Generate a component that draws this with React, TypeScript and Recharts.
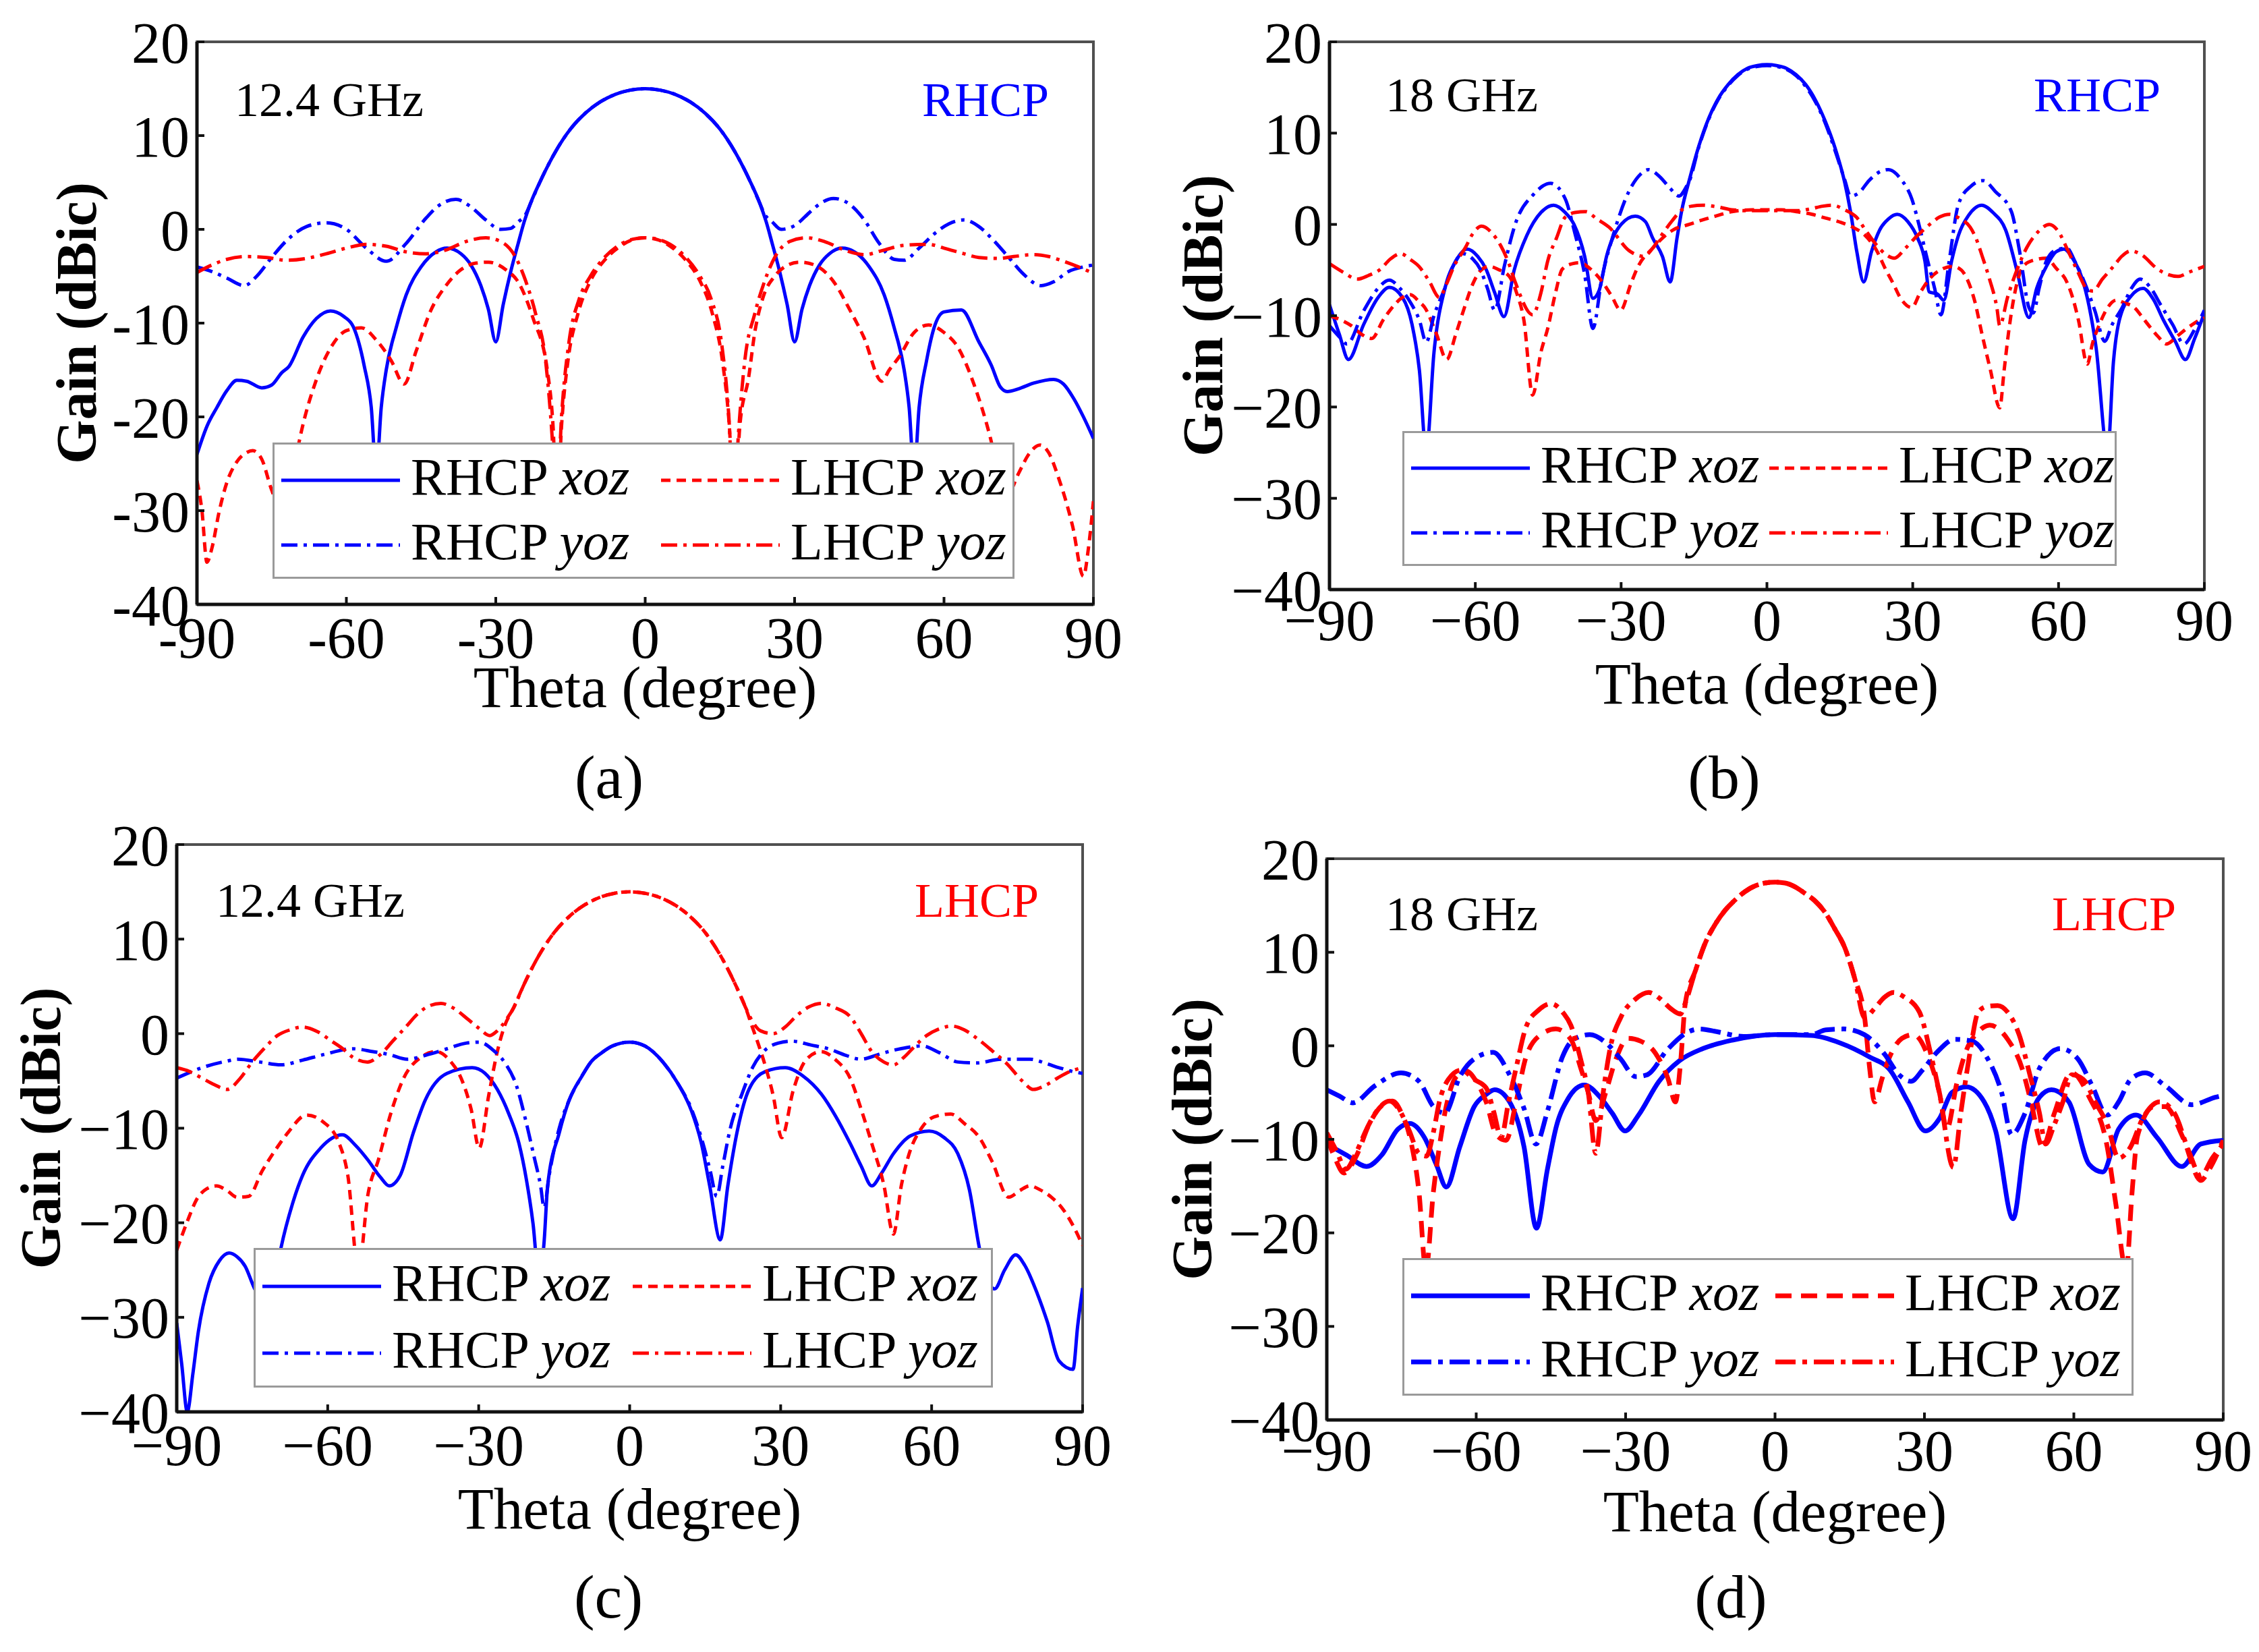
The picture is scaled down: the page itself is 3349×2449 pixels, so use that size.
import { LineChart, Line, XAxis, YAxis, Legend, ReferenceArea, Label } from 'recharts'

type Pair = [number, number]

const THETA_TICKS = [-90, -60, -30, 0, 30, 60, 90]
const GAIN_TICKS = [-40, -30, -20, -10, 0, 10, 20]

// (a) 12.4 GHz, RHCP
const A_RHCP_XOZ: Pair[] = [
  [-90, -24], [-88, -21], [-86, -19], [-84, -17.2], [-82, -16.1], [-80, -16.2], [-77, -16.9], [-75, -16.6],
  [-73, -15.3], [-71.5, -14.6], [-68.7, -11.5], [-66, -9.5], [-63.2, -8.7], [-60.5, -9.3], [-58.6, -10.4],
  [-56.4, -14.6], [-55, -19], [-54, -26], [-53, -19], [-52, -15], [-50, -10.5], [-48, -7], [-45, -4], [-42, -2.4],
  [-39.8, -2], [-37, -2.6], [-35, -3.8], [-33, -6], [-31.5, -8.5], [-30, -12], [-28.5, -8], [-27, -4.5],
  [-25.5, -1.5], [-24.3, 0.8], [-23, 2.8], [-21, 5.2], [-18, 8.3], [-15, 10.7], [-12, 12.4], [-9, 13.6],
  [-6, 14.4], [-3, 14.85], [0, 15], [3, 14.85], [6, 14.4], [9, 13.6], [12, 12.4], [15, 10.7], [18, 8.3],
  [21, 5.2], [23, 2.8], [24.3, 0.8], [25.5, -1.5], [27, -4.5], [28.5, -8], [30, -12], [31.5, -8.5], [33, -6],
  [35, -3.8], [37, -2.6], [39.5, -2], [42, -2.4], [45, -4], [48, -7], [50, -10.5], [52, -15], [53, -19], [54, -26],
  [55, -19], [56.5, -14], [58, -10.5], [60, -8.8], [63.5, -8.6], [67, -12], [69.5, -14.5], [71.3, -16.8],
  [72.7, -17.3], [75, -17], [78, -16.4], [82, -16], [84, -16.5], [86, -18], [88, -20], [90, -22.3],
]
const A_RHCP_YOZ: Pair[] = [
  [-90, -4], [-87, -4.5], [-84, -5.2], [-80.5, -6], [-78, -5], [-75, -3], [-72, -1.2], [-68, 0.3], [-64, 0.7],
  [-60, 0], [-56, -2], [-52, -3.4], [-48, -1.5], [-44, 1.2], [-41, 2.7], [-38, 3.2], [-35, 2.4], [-32, 1],
  [-29, 0], [-27, 0.1], [-25.5, 0.8], [-24, 1.6], [-23, 2.8], [-21, 5.2], [-18, 8.3], [-15, 10.7], [-12, 12.4],
  [-9, 13.6], [-6, 14.4], [-3, 14.85], [0, 15], [3, 14.85], [6, 14.4], [9, 13.6], [12, 12.4], [15, 10.7],
  [18, 8.3], [21, 5.2], [23, 2.8], [24, 1.6], [25.5, 0.8], [27.3, 0], [30, 0.4], [33, 1.8],
  [35, 2.7], [37.8, 3.3], [41, 2.7], [44, 1], [47, -1.5], [50, -3.2], [52, -3.3], [55, -2], [58, -0.5],
  [61, 0.6], [64, 1], [67, 0.3], [70, -1.2], [73, -3], [76, -4.8], [79.5, -6], [82, -5.6], [85, -4.5],
  [88, -4], [90, -3.8],
]
const A_LHCP_XOZ: Pair[] = [
  [-90, -26.8], [-89, -30], [-88, -35.5], [-87, -34], [-85.5, -30], [-84, -27], [-82, -24.8], [-80, -23.8],
  [-78.8, -23.6], [-77, -24.5], [-75, -27.8], [-73, -30], [-71, -27], [-69.5, -22.7], [-66, -16], [-63, -12.5],
  [-60, -10.8], [-57, -10.5], [-54, -11.8], [-51, -14], [-48.4, -16.5], [-46, -13], [-43, -8.6], [-40, -6],
  [-37, -4.3], [-34, -3.6], [-31.5, -3.5], [-28, -4.3], [-25.4, -5.7], [-22.5, -9.5], [-19.6, -15.2],
  [-18.5, -21], [-17.7, -30], [-16.8, -21], [-15.5, -14], [-13.5, -9], [-11, -5.5], [-8, -3.2], [-5, -1.8],
  [-2.5, -1.1], [0, -0.9], [2.5, -1.1], [5, -1.8], [8, -3.2], [11, -5.5], [13.5, -9], [15.5, -14], [16.9, -21],
  [17.9, -30], [19, -21], [20.8, -15.7], [22, -11], [23.7, -7.2], [26, -5], [28, -4], [31, -3.5], [34, -3.8],
  [38, -5.7], [41, -8.5], [43.9, -11.5], [47.5, -16.2], [49, -15], [51, -13.6], [54, -11], [56.9, -10.2],
  [60, -11], [62.7, -12.5], [66, -16.5], [69.2, -22], [71, -26], [73, -28], [75, -26], [77, -24], [79.3, -23],
  [81, -23.8], [83, -26.5], [85.8, -31.6], [88, -37], [89, -34], [90, -29],
]
const A_LHCP_YOZ: Pair[] = [
  [-90, -4.6], [-87, -3.8], [-84, -3.2], [-80, -2.9], [-76, -3], [-72, -3.3], [-68, -3.1], [-64, -2.6],
  [-60, -2], [-56, -1.6], [-52, -1.8], [-48, -2.4], [-44, -2.6], [-40, -2.2], [-36, -1.3], [-32, -0.9],
  [-29, -1.3], [-26, -3], [-24, -5.5], [-22, -9], [-20, -14], [-18.7, -22], [-17.8, -30], [-16.8, -20],
  [-15.3, -12], [-13.3, -7.5], [-11, -5], [-8, -2.9], [-5, -1.6], [-2.5, -1.05], [0, -0.9], [2.5, -1.05],
  [5, -1.6], [8, -2.9], [11, -5], [13.3, -7.5], [15.3, -12], [16.8, -20], [17.8, -30], [18.7, -22], [20, -14],
  [22, -9], [24, -5.5], [26, -3], [29, -1.3], [32.4, -0.9], [36, -1.3], [40, -2.2], [44, -2.7], [48, -2.2],
  [52, -1.7], [56.9, -1.6], [60, -2], [64, -2.6], [67, -3], [70.9, -3.1], [74, -2.9], [78, -2.7], [81, -2.9],
  [84, -3.4], [87, -4], [90, -4.7],
]

// (b) 18 GHz, RHCP
const B_RHCP_XOZ: Pair[] = [
  [-90, -8.8], [-88, -12], [-86.1, -14.8], [-83, -11], [-80, -8], [-77.7, -6.9], [-75, -8], [-73, -11],
  [-71.5, -16], [-70.1, -25], [-68.5, -14], [-66.2, -6.9], [-64, -4], [-61.7, -2.7], [-59.5, -3.5],
  [-57.8, -4.9], [-56, -7.5], [-54.1, -10.1], [-52, -5], [-49.4, -1.2], [-46.5, 1.3], [-43.9, 2.1],
  [-41.5, 1.3], [-39.7, 0], [-37.5, -3.5], [-35.8, -8.1], [-34.5, -7.2], [-33, -3.5], [-30, 0], [-27.1, 0.9],
  [-25, 0.3], [-23.5, -1.5], [-21.5, -3.5], [-19.9, -6.3], [-18.5, -1.5], [-17.5, 1.6], [-16, 4.8],
  [-14, 8.6], [-12, 11.6], [-10, 13.8], [-8, 15.3], [-6, 16.4], [-4, 17.1], [-2, 17.4], [0, 17.5], [2, 17.4],
  [4, 17.1], [6, 16.4], [8, 15.3], [10, 13.6], [12, 11.3], [14, 8.4], [16, 4.6], [17.2, 1.4], [18.5, -3],
  [19.9, -6.3], [21.5, -3], [23.2, -0.6], [25, 0.6], [26.8, 1.1], [29, 0.3], [31, -1.5], [32.5, -4], [33.4, -7.4],
  [35, -7.6], [36.4, -8.3], [38, -4], [39.4, -1.2], [41.5, 1], [44.2, 2.1], [46.5, 1.3], [49.1, -0.6],
  [51.5, -5.2], [53.9, -10.2], [55.5, -7], [57.5, -4.6], [59.5, -3], [61.1, -2.7], [63, -3.8], [64.7, -5.7],
  [66.3, -9], [67.7, -13.4], [70.1, -25], [71.3, -15], [72.5, -10.5], [75, -7.8], [77.4, -7], [79.5, -8.2],
  [81.6, -10.5], [84, -12.8], [86.1, -14.8], [88, -12.5], [90, -9.7],
]
const B_RHCP_YOZ: Pair[] = [
  [-90, -11.1], [-88, -12.3], [-86.4, -13.1], [-83, -9.5], [-80, -7], [-77.7, -6.1], [-75.5, -7],
  [-73.4, -8.5], [-71.5, -10.5], [-70.1, -12.9], [-68.5, -10], [-66.2, -6.9], [-64.5, -4.5], [-62.6, -3.2],
  [-60.5, -3.8], [-59, -4.9], [-57.5, -7], [-56, -9.4], [-54, -4.5], [-51.8, 0], [-48, 3.3], [-44.5, 4.5],
  [-41.5, 2.8], [-39.5, -1], [-37.5, -5.5], [-35.8, -11.4], [-34, -6], [-31.3, -0.6], [-28.5, 3.5],
  [-26, 5.5], [-24.4, 6], [-22, 5.2], [-20, 4], [-18.1, 3.1], [-16.5, 4.2], [-16, 4.7], [-14, 8.5],
  [-12, 11.5], [-10, 13.7], [-8, 15.2], [-6, 16.3], [-4, 17], [-2, 17.3], [0, 17.4], [2, 17.3], [4, 17],
  [6, 16.3], [8, 15.1], [10, 13.4], [12, 11.1], [14, 8.1], [16, 4.9], [17.2, 3.1], [19, 3.5], [21, 4.8],
  [23, 5.7], [25, 6], [27.5, 5], [29.8, 2.8], [31.5, -0.5], [32.8, -3.4], [34.5, -7], [35.8, -9.9], [37.5, -4],
  [39.4, 2.2], [42, 4.2], [44.5, 4.8], [47, 3.6], [50.3, 1.4], [52, -3], [53.9, -9.1], [54.8, -9.7], [56, -7],
  [57.5, -4], [59.5, -2.8], [61.7, -2.6], [63.5, -4.2], [65.3, -6.3], [67.5, -9.5], [69.5, -12.8], [71, -11],
  [73.1, -9.1], [75, -7], [76.8, -6], [79, -7], [81, -8.8], [83.5, -11], [85.8, -13.1], [88, -11.5],
  [90, -9.4],
]
const B_LHCP_XOZ: Pair[] = [
  [-90, -10], [-87.5, -10.5], [-85.5, -11.1], [-83.5, -12], [-81.3, -12.5], [-79, -10.5], [-77.1, -9.1],
  [-75, -8], [-73.4, -7.7], [-71.5, -8.5], [-70.4, -9.1], [-68, -12], [-65.9, -14.8], [-64, -12],
  [-62.6, -9.7], [-60.5, -6.5], [-59, -5.1], [-57.2, -4.6], [-55, -5], [-53, -5.7], [-51.5, -7.5],
  [-50, -10.5], [-48.2, -18.7], [-46.5, -14], [-45.1, -11.4], [-43.5, -7.5], [-42.1, -4.9], [-40, -4.3],
  [-38.5, -4.2], [-36.5, -4.8], [-34.3, -6], [-32, -7.8], [-30.1, -9.4], [-28, -6.5], [-26.5, -4.6],
  [-23.5, -2.6], [-19.3, -0.6], [-16, 0], [-13.2, 0.5], [-10, 1], [-7.2, 1.4], [-3, 1.6], [0, 1.6], [3, 1.6],
  [6, 1.4], [9.3, 1.1], [12, 0.7], [15.3, 0.2], [18, -0.4], [20.2, -1.2], [22.5, -2.8], [24.4, -4.9],
  [26, -6.5], [27.4, -8], [29.8, -9.1], [31.5, -7.5], [33.4, -6], [36, -4.9], [38.2, -4.6], [40, -5],
  [41.2, -6], [42.8, -8.5], [44.2, -11.9], [46, -16], [47.9, -20.1], [48.8, -16], [49.7, -11.9], [51, -7.5],
  [52.7, -4.6], [55, -3.9], [57.5, -3.7], [59.5, -4.8], [61.7, -6.3], [63, -8.2], [64.1, -10.5],
  [65.9, -15.3], [67, -13], [68.3, -11.1], [70, -9.2], [71.9, -8.3], [73.5, -8.6], [75.6, -9.1], [77, -10],
  [78.6, -11.1], [80.5, -12.3], [82.2, -13.1], [84.5, -12.2], [86.4, -11.4], [88, -10.8], [90, -10.2],
]
const B_LHCP_YOZ: Pair[] = [
  [-90, -4.3], [-87, -5.3], [-84.3, -6], [-82, -5.6], [-79.5, -4.9], [-77.5, -3.8], [-75.3, -3.2],
  [-73.5, -3.8], [-71.6, -4.6], [-69.5, -6.2], [-67.4, -8], [-65.9, -6.5], [-64.4, -4.6], [-62, -2.5],
  [-60.5, -1], [-58.7, -0.2], [-56.5, -1], [-54.8, -2.3], [-53.3, -4], [-51.8, -6.3], [-48.2, -9.9],
  [-46.5, -7.5], [-45.1, -4], [-43.3, -1.5], [-41.5, 0.8], [-39.5, 1.3], [-37.3, 1.4], [-35, 0.6],
  [-32.5, -0.3], [-28.3, -2.9], [-25.3, -3.5], [-23.5, -2.6], [-21.7, -1.2], [-19.5, 0.4], [-17.5, 1.6],
  [-15.5, 2], [-13.2, 2.1], [-10, 1.9], [-7.2, 1.6], [-3.5, 1.5], [0, 1.5], [3, 1.5], [6.3, 1.5], [9, 1.7],
  [11.5, 2], [13.5, 2.1], [16, 1.6], [18.4, 0.8], [20.5, -0.8], [22.6, -2.3], [24.5, -3.3], [26.2, -3.7],
  [28.5, -2.6], [31, -1.2], [33.5, 0], [35.5, 0.8], [37.6, 1.1], [39.5, 0.7], [41.8, -0.3], [43, -1.5],
  [44.3, -3.5], [45.8, -6], [47.3, -9.1], [47.9, -11.1], [49.5, -8], [51.5, -4.9], [53.5, -2.5],
  [55.8, -0.8], [58.1, 0], [60, -0.8], [61.7, -2.6], [63.8, -5], [65.9, -7.1], [67.1, -7.3], [69, -6],
  [71.3, -4.6], [73, -3.5], [74.9, -2.9], [77, -3.3], [80.4, -4.9], [82.5, -5.5], [84.6, -5.7], [87, -5.2],
  [90, -4.6],
]

// (c) 12.4 GHz, LHCP
const C_RHCP_XOZ: Pair[] = [
  [-90, -30.6], [-89, -35], [-87.9, -40], [-86.8, -36], [-85.7, -31.5], [-83.6, -26.4], [-81.5, -24],
  [-79.6, -23.2], [-78, -23.6], [-76.4, -24.6], [-74.5, -27], [-72.5, -28.5], [-70.5, -26], [-69.3, -22.7],
  [-67, -18], [-65, -15], [-61.4, -12.1], [-57.1, -10.7], [-54.5, -11.8], [-52.1, -13.3], [-49.5, -15.2],
  [-47.8, -16.1], [-45.6, -15], [-43, -10.5], [-40.6, -7], [-36.3, -4.2], [-31.3, -3.6], [-26.3, -5.9],
  [-24, -8.5], [-22, -11.6], [-20.5, -15.5], [-19.2, -20.1], [-18, -26], [-17, -22], [-16.3, -16.1],
  [-14, -10.5], [-12, -7], [-9.5, -4.5], [-7.7, -3], [-5.5, -2], [-3.4, -1.3], [0, -0.9], [3, -1.3],
  [6.6, -3], [9.5, -5.2], [12.3, -8.2], [14.2, -11.5], [15.9, -16.1], [18, -21.8], [19.5, -16.1],
  [21.5, -10], [23.7, -5.9], [27, -4], [30.9, -3.6], [34.5, -4.5], [38.1, -6.4], [41, -8.8], [43.8, -11.6],
  [46, -14], [48.1, -16.1], [50, -14.8], [52.4, -12.7], [55.8, -10.8], [59.5, -10.3], [62.5, -11],
  [65.2, -12.7], [67.5, -16.5], [69.5, -22.7], [71, -26], [72.5, -27], [74.5, -25], [76.7, -23.4],
  [78.5, -24.5], [81, -27.5], [83, -30.5], [85.3, -34.6], [88.1, -35.5], [89, -31], [90, -26.9],
]
const C_RHCP_YOZ: Pair[] = [
  [-90, -4.7], [-85, -3.6], [-80, -2.9], [-77.8, -2.7], [-73.5, -3], [-69.3, -3.3], [-65, -2.8],
  [-60.7, -2.2], [-55, -1.6], [-51, -1.9], [-47.8, -2.2], [-44.2, -2.7], [-40, -2.2], [-36.3, -1.6],
  [-32.5, -1], [-29.9, -0.9], [-27, -1.8], [-24.9, -3], [-22.5, -5.5], [-20.6, -9.3], [-19, -13],
  [-17.7, -16.1], [-17, -18.4], [-16, -15], [-14, -10], [-12, -7], [-9.5, -4.5], [-7.7, -3], [-5.5, -2],
  [-3.4, -1.3], [0, -0.9], [3, -1.3], [6.6, -3], [9.5, -5.2], [12.3, -8], [14.5, -11.5], [16, -14.5],
  [17.3, -17.2], [18.5, -14], [20, -10], [22.3, -6.4], [24.5, -3.5], [26.6, -1.9], [29.5, -1], [32.3, -0.8],
  [36, -1.2], [39.5, -1.6], [43, -2.3], [45.9, -2.7], [50, -2.1], [53.8, -1.6], [58.1, -1.3], [61.5, -2],
  [65.2, -3], [69, -3.1], [73.8, -2.7], [79.5, -2.7], [83, -3.2], [85.3, -3.6], [88, -4], [90, -4.2],
]
const C_LHCP_XOZ: Pair[] = [
  [-90, -22.9], [-88, -20], [-86, -17.5], [-84, -16.4], [-82.1, -16.1], [-80, -16.6], [-78, -17.3],
  [-75.7, -17.2], [-73, -14.5], [-70, -12], [-67.8, -10.4], [-64.2, -8.6], [-61, -9.3], [-57.8, -11.5],
  [-56, -15], [-53.9, -25], [-52, -17], [-49.9, -13.3], [-47.5, -8.5], [-44.9, -4.7], [-41.5, -2.5],
  [-38.5, -1.9], [-35.5, -3], [-33.5, -4.7], [-31.5, -8], [-29.9, -12.1], [-28, -6.5], [-26.3, -1.9],
  [-25, 0.6], [-23, 2.8], [-21, 5.2], [-18, 8.3], [-15, 10.7], [-12, 12.4], [-9, 13.6], [-6, 14.4],
  [-3, 14.85], [0, 15], [3, 14.85], [6, 14.4], [9, 13.6], [12, 12.4], [15, 10.7], [18, 8.3], [21, 5.2],
  [23, 2.8], [24.3, 0.8], [25.5, -1], [27, -3.5], [28.5, -6.5], [30.2, -11], [32.5, -6], [35, -2.8], [38, -1.9],
  [41, -2.8], [43.8, -4.7], [46, -8], [48.1, -11.6], [50.5, -16], [52.4, -21.2], [54, -16], [55.2, -13.3],
  [58.1, -9.9], [60.5, -8.8], [63.8, -8.5], [66.5, -9.5], [69.5, -11], [72, -13.5], [75.3, -17.3],
  [77.5, -16.6], [79.5, -16.1], [81.5, -16.5], [83.8, -17.3], [86, -18.5], [88, -20.2], [90, -22.4],
]
const C_LHCP_YOZ: Pair[] = [
  [-90, -3.6], [-87.5, -4], [-85, -4.7], [-82.5, -5.4], [-80, -5.9], [-77.5, -4.8], [-75, -3],
  [-72.5, -1.5], [-70, -0.2], [-67.5, 0.4], [-65, 0.7], [-62, 0.2], [-59.2, -0.8], [-57, -1.6], [-55, -2.5],
  [-52.1, -3], [-49.5, -2.2], [-47.1, -0.8], [-44.5, 0.7], [-42.1, 2.1], [-40, 2.9], [-37.5, 3.2],
  [-35, 2.7], [-32.1, 1.5], [-29.8, 0.5], [-27.8, -0.2], [-26.3, 0.3], [-24.5, 1.5], [-23, 2.8],
  [-21, 5.2], [-18, 8.3], [-15, 10.7], [-12, 12.4], [-9, 13.6], [-6, 14.4], [-3, 14.85], [0, 15],
  [3, 14.85], [6, 14.4], [9, 13.6], [12, 12.4], [15, 10.7], [18, 8.3], [21, 5.2], [23, 2.8], [24.5, 1.2],
  [26, 0.3], [28.5, 0], [30.9, 0.7], [33, 1.8], [35.5, 2.8], [38.1, 3.2], [41, 2.7], [43.8, 1.8], [46, 0],
  [48.1, -1.9], [50.5, -3], [52.4, -3.3], [54.5, -2.5], [56.7, -1.3], [59, -0.2], [61.5, 0.5], [64, 0.8],
  [66.5, 0.4], [69, -0.5], [72, -1.8], [75, -3.2], [78, -5], [80.2, -5.9], [82.5, -5.5], [85, -4.7],
  [87.5, -4], [90, -3.6],
]

// (d) 18 GHz, LHCP
const D_RHCP_XOZ: Pair[] = [
  [-90, -10.5], [-86, -11.7], [-82, -12.9], [-79, -11.7], [-75.7, -8.9], [-73.3, -8.3], [-70.4, -9.8],
  [-68, -12.7], [-66, -15.1], [-63.3, -10.8], [-60.4, -6.5], [-58, -5.2], [-56.3, -4.7], [-53.3, -6],
  [-50.4, -10.8], [-47.9, -19.5], [-45.7, -13.2], [-43.9, -8.6], [-41.6, -5.7], [-38.3, -4.2], [-35.1, -5.5],
  [-32.7, -7.2], [-30.1, -9.1], [-27.4, -7.4], [-23.3, -3.8], [-19.2, -1.6], [-14.5, -0.3], [-8.6, 0.6],
  [0, 1.2], [7.3, 1.1], [13.1, 0.3], [19, -1.2], [23.1, -2.6], [26.7, -6], [30.2, -9.1], [33.1, -7.7],
  [35.5, -5], [38.4, -4.4], [42, -6], [44.3, -9.1], [47.8, -18.5], [50.2, -10.1], [53.1, -5.5], [55.5, -4.7],
  [59, -6], [63.1, -12.7], [65.8, -13.5], [69, -8.9], [72.5, -7.4], [76.7, -9.8], [81.7, -12.9],
  [85.5, -10.5], [90, -10.1],
]
const D_RHCP_YOZ: Pair[] = [
  [-90, -4.7], [-87.4, -5.4], [-84.8, -6.1], [-80.4, -4.3], [-75.1, -2.9], [-71.5, -3.8], [-68.6, -6.5],
  [-66.3, -7.2], [-63.3, -3.3], [-60.4, -1.4], [-56.6, -0.7], [-53.3, -3.1], [-50.4, -6.7], [-48, -10.5],
  [-45.7, -7], [-42.7, -1.2], [-40.4, 0.7], [-37.2, 1.2], [-33.9, 0.3], [-31, -1.4], [-28, -3.3],
  [-25.7, -3.1], [-21.6, -0.4], [-17.4, 1.5], [-15.1, 1.8], [-11.6, 1.5], [-6.3, 1], [0, 1.2], [7.3, 1.2],
  [10.2, 1.7], [13.7, 1.8], [17.9, 1.2], [22, -0.9], [24.9, -3.1], [27.3, -3.8], [29.6, -2.6], [32.5, -0.7],
  [36.1, 0.7], [39.6, 0.5], [42.5, -1.2], [45.5, -5], [47.5, -9.5], [50.2, -7.2], [53.1, -2.4], [57.3, -0.3],
  [60.8, -1.4], [63.7, -4.3], [66.7, -7.4], [69, -6], [71.4, -3.6], [74.3, -2.9], [78.4, -4.3], [83.7, -6.3],
  [88.4, -5.5], [90, -5.3],
]
const D_LHCP_XOZ: Pair[] = [
  [-90, -9.8], [-88.6, -11.7], [-86.5, -13.6], [-84, -11.7], [-81.5, -8.4], [-78.5, -6.2], [-76.8, -5.9],
  [-75, -7.2], [-73.3, -9.8], [-71.5, -15.6], [-70.1, -24], [-68.6, -15.6], [-67.4, -10.8], [-66.3, -7.2],
  [-64, -3.3], [-62, -2.7], [-60, -3.8], [-58, -6], [-56, -9.5], [-54, -10.1], [-52, -6], [-50, -1.2],
  [-47, 1.2], [-44, 1.8], [-41, 0.7], [-39, -2.4], [-37.5, -5], [-36, -8], [-34, -5], [-32, -1.5],
  [-29.5, 0.8], [-27, 0.5], [-24, -0.8], [-21.5, -3.5], [-20, -6], [-19, -2], [-18, 4.6], [-16, 8],
  [-14, 11], [-12, 13], [-10, 14.5], [-8, 15.6], [-6, 16.5], [-4, 17.1], [-2, 17.4], [0, 17.5], [2, 17.4],
  [4, 17], [6, 16.3], [8, 15.5], [10, 14.3], [12, 12.5], [14, 10.5], [16, 7.2], [18, 3], [19, -2.4],
  [20, -6], [21.5, -3.5], [23, -1.2], [25.5, 0.8], [27.8, 1.2], [30.8, -1.2], [33, -5], [34.5, -8.9],
  [36.5, -4], [38.4, -0.5], [40.8, 1.5], [43.1, 2.2], [46.7, 0.7], [49.6, -2.4], [51.4, -6], [53.7, -10.8],
  [56.1, -7.2], [59, -3.1], [59.6, -2.9], [63.1, -5.5], [66.7, -10.8], [68.4, -16.8], [70.5, -24],
  [71.7, -15.6], [72.8, -9.6], [76.1, -6.5], [78.4, -6.5], [81.9, -9.8], [85.5, -14.4], [87.2, -13.2],
  [90, -10.1],
]
const D_LHCP_YOZ: Pair[] = [
  [-90, -9.3], [-88, -11.3], [-86.2, -13.2], [-84, -11.3], [-82, -8.9], [-80, -7], [-77.4, -5.9],
  [-75.5, -6.8], [-73.5, -9], [-71.5, -11.5], [-70, -11.8], [-68.5, -9], [-67.4, -6], [-65.6, -3.6],
  [-63, -2.6], [-60.4, -3.6], [-58, -4.5], [-56.5, -7], [-55, -9.8], [-53.5, -6], [-52, -2.4], [-50, 2],
  [-47.5, 3.8], [-45, 4.5], [-42.5, 3.5], [-41, 2.2], [-39, -1.5], [-37.5, -5], [-36, -11.5], [-34.5, -5],
  [-33, 0], [-31, 3], [-28, 5], [-25.4, 5.7], [-23, 5], [-21, 4], [-19, 3.4], [-18, 4.6], [-16, 8],
  [-14, 11], [-12, 13], [-10, 14.5], [-8, 15.6], [-6, 16.5], [-4, 17.1], [-2, 17.4], [0, 17.5], [2, 17.4],
  [4, 17], [6, 16.3], [8, 15.5], [10, 14.3], [12, 12.5], [14, 10.5], [16, 7.2], [18, 3], [20, 4], [22, 5.2],
  [23.8, 5.7], [26, 5.2], [29, 3.6], [31.4, -1.2], [33, -5], [35.8, -13], [37.3, -7.2], [39, -1.2],
  [40.8, 3.6], [42.5, 4.2], [44.7, 4.3], [46.7, 3.6], [49, 1.2], [51.4, -3.6], [53.1, -7.2], [54.3, -10.5],
  [56.1, -8.4], [57.8, -6], [59.6, -3.1], [61.9, -3.6], [64.3, -6], [66.7, -8.4], [69, -12], [71.4, -10.8],
  [73.7, -7.9], [77.2, -6], [80.2, -7.2], [83.1, -11.3], [85.5, -13.9], [87.8, -12], [90, -10.5],
]

const BLUE = '#0000ff'
const RED = '#ff0000'
const FONT = '"Liberation Serif", "Times New Roman", serif'

const YW = 260
const XH = 200
const MT = 70
const MR = 90
const TICK_FS = 86

// legend grid order: row 1 xoz, row 2 yoz
const SERIES = [
  { key: 'rx', pol: 'RHCP', plane: 'xoz', color: BLUE, style: 'solid' },
  { key: 'lx', pol: 'LHCP', plane: 'xoz', color: RED, style: 'dash' },
  { key: 'ry', pol: 'RHCP', plane: 'yoz', color: BLUE, style: 'dashdot' },
  { key: 'ly', pol: 'LHCP', plane: 'yoz', color: RED, style: 'dashdot' },
]

interface Panel {
  id: string
  left: number
  top: number
  width: number
  height: number
  series: Record<string, Pair[]>
  minus: string
  lineW: number
  dash: string
  dashDot: string
  legend: { x: number; y: number; w: number; h: number; col2: number }
  yLabelOffset: number
  xLabelOffset: number
  tickMargin: number
}

const PANELS: Panel[] = [
  {
    id: 'a', left: 292, top: 62, width: 1329, height: 834,
    series: { rx: A_RHCP_XOZ, lx: A_LHCP_XOZ, ry: A_RHCP_YOZ, ly: A_LHCP_YOZ },
    minus: '-', lineW: 5, dash: '14 9', dashDot: '24 9 5 9',
    legend: { x: 404, y: 656, w: 1100, h: 202, col2: 573 },
    yLabelOffset: 80, xLabelOffset: 48, tickMargin: 29,
  },
  {
    id: 'b', left: 1971, top: 62, width: 1297, height: 812,
    series: { rx: B_RHCP_XOZ, lx: B_LHCP_XOZ, ry: B_RHCP_YOZ, ly: B_LHCP_YOZ },
    minus: '\u2212', lineW: 5, dash: '14 9', dashDot: '24 9 5 9',
    legend: { x: 2079, y: 639, w: 1059, h: 200, col2: 541 },
    yLabelOffset: 71, xLabelOffset: 31, tickMargin: 25,
  },
  {
    id: 'c', left: 262, top: 1252, width: 1343, height: 841,
    series: { rx: C_RHCP_XOZ, lx: C_LHCP_XOZ, ry: C_RHCP_YOZ, ly: C_LHCP_YOZ },
    minus: '\u2212', lineW: 5, dash: '14 9', dashDot: '24 9 5 9',
    legend: { x: 376, y: 1850, w: 1096, h: 207, col2: 559 },
    yLabelOffset: 57, xLabelOffset: 27, tickMargin: 29,
  },
  {
    id: 'd', left: 1967, top: 1273, width: 1329, height: 832,
    series: { rx: D_RHCP_XOZ, lx: D_LHCP_XOZ, ry: D_RHCP_YOZ, ly: D_LHCP_YOZ },
    minus: '\u2212', lineW: 7, dash: '24 14', dashDot: '30 10 7 10',
    legend: { x: 2079, y: 1865, w: 1084, h: 204, col2: 550 },
    yLabelOffset: 59, xLabelOffset: 35, tickMargin: 25,
  },
]

const NOTES = [
  { x: 348, y: 172, text: '12.4 GHz', color: '#000' },
  { x: 1367, y: 172, text: 'RHCP', color: BLUE },
  { x: 2054, y: 165, text: '18 GHz', color: '#000' },
  { x: 3015, y: 165, text: 'RHCP', color: BLUE },
  { x: 320, y: 1359, text: '12.4 GHz', color: '#000' },
  { x: 1356, y: 1359, text: 'LHCP', color: RED },
  { x: 2054, y: 1379, text: '18 GHz', color: '#000' },
  { x: 3042, y: 1379, text: 'LHCP', color: RED },
]

const CAPTIONS = [
  { x: 903, y: 1183, text: '(a)' },
  { x: 2556, y: 1183, text: '(b)' },
  { x: 902, y: 2398, text: '(c)' },
  { x: 2566, y: 2398, text: '(d)' },
]

function merge(series: Record<string, Pair[]>) {
  const rows = new Map<number, Record<string, number>>()
  for (const [key, arr] of Object.entries(series)) {
    for (const [t, g] of arr) {
      const row = rows.get(t) ?? { t }
      row[key] = g
      rows.set(t, row)
    }
  }
  return [...rows.values()].sort((a, b) => a.t - b.t)
}

function dashOf(p: Panel, style: string) {
  if (style === 'dash') return p.dash
  if (style === 'dashdot') return p.dashDot
  return undefined
}

function LegendBox({ p }: { p: Panel }) {
  const { w, h, col2 } = p.legend
  return (
    <div
      style={{
        width: w, height: h, boxSizing: 'border-box', border: '3px solid #9a9a9a',
        background: '#fff', position: 'relative', fontFamily: FONT, fontSize: 78, color: '#000',
      }}
    >
      {SERIES.map((s, i) => {
        const x0 = i % 2 ? col2 : 10
        const cy = i < 2 ? h * 0.26 : h * 0.74
        return (
          <div key={s.key}>
            <svg
              width={176}
              height={20}
              style={{ position: 'absolute', left: x0, top: cy - 10 }}
            >
              <line
                x1={0} y1={10} x2={176} y2={10}
                stroke={s.color} strokeWidth={p.lineW}
                strokeDasharray={dashOf(p, s.style)}
              />
            </svg>
            <span
              style={{ position: 'absolute', left: x0 + 192, top: cy - 44, lineHeight: '78px', whiteSpace: 'nowrap' }}
            >
              {s.pol} <i>{s.plane}</i>
            </span>
          </div>
        )
      })}
    </div>
  )
}

function GainPanel({ p }: { p: Panel }) {
  const data = merge(p.series)
  const chartW = YW + p.width + MR
  const chartH = MT + p.height + XH
  const originX = p.left - YW
  const originY = p.top - MT
  const fmt = (v: number) => String(v).replace('-', p.minus)
  const tick = { fill: '#000', fontSize: TICK_FS, fontFamily: FONT }

  return (
    <div style={{ position: 'absolute', left: originX, top: originY }}>
      <LineChart
        width={chartW}
        height={chartH}
        data={data}
        margin={{ top: MT, right: MR, bottom: 0, left: 0 }}
      >
        <ReferenceArea
          x1={-90} x2={90} y1={-40} y2={20}
          fill="none" fillOpacity={0} stroke="#505050" strokeWidth={4}
        />
        <XAxis
          dataKey="t"
          type="number"
          domain={[-90, 90]}
          ticks={THETA_TICKS}
          interval={0}
          allowDataOverflow
          height={XH}
          tick={tick}
          tickFormatter={fmt}
          tickSize={-11}
          tickMargin={p.tickMargin}
          axisLine={{ stroke: '#111', strokeWidth: 5 }}
          tickLine={{ stroke: '#111', strokeWidth: 4 }}
        >
          <Label
            value="Theta (degree)"
            position="insideBottom"
            offset={p.xLabelOffset}
            style={{ fontSize: 87, fontFamily: FONT, fill: '#000' }}
          />
        </XAxis>
        <YAxis
          type="number"
          domain={[-40, 20]}
          ticks={GAIN_TICKS}
          interval={0}
          allowDataOverflow
          width={YW}
          tick={tick}
          tickFormatter={fmt}
          tickSize={-11}
          tickMargin={22}
          axisLine={{ stroke: '#111', strokeWidth: 5 }}
          tickLine={{ stroke: '#111', strokeWidth: 4 }}
        >
          <Label
            value="Gain (dBic)"
            angle={-90}
            position="insideLeft"
            offset={p.yLabelOffset}
            style={{ fontSize: 84, fontWeight: 'bold', fontFamily: FONT, fill: '#000', textAnchor: 'middle' }}
          />
        </YAxis>
        {SERIES.map((s) => (
          <Line
            key={s.key}
            dataKey={s.key}
            name={`${s.pol} ${s.plane}`}
            type="monotone"
            stroke={s.color}
            strokeWidth={p.lineW}
            strokeDasharray={dashOf(p, s.style)}
            dot={false}
            activeDot={false}
            connectNulls
            isAnimationActive={false}
          />
        ))}
        <Legend
          layout="horizontal"
          align="center"
          verticalAlign="middle"
          wrapperStyle={{
            left: p.legend.x - originX,
            top: p.legend.y - originY,
            width: p.legend.w,
            height: p.legend.h,
          }}
          content={() => <LegendBox p={p} />}
        />
      </LineChart>
    </div>
  )
}

export default function App() {
  return (
    <div
      style={{
        position: 'absolute', left: 0, top: 0, width: 3349, height: 2449,
        background: '#fff', overflow: 'hidden', fontFamily: FONT,
      }}
    >
      {PANELS.map((p) => (
        <GainPanel key={p.id} p={p} />
      ))}
      <svg
        width={3349}
        height={2449}
        style={{ position: 'absolute', left: 0, top: 0, pointerEvents: 'none' }}
      >
        {NOTES.map((n) => (
          <text key={`${n.x}-${n.y}`} x={n.x} y={n.y} fill={n.color} fontSize={72} fontFamily={FONT}>
            {n.text}
          </text>
        ))}
        {CAPTIONS.map((c) => (
          <text key={c.text} x={c.x} y={c.y} textAnchor="middle" fontSize={92} fontFamily={FONT} fill="#000">
            {c.text}
          </text>
        ))}
      </svg>
    </div>
  )
}
